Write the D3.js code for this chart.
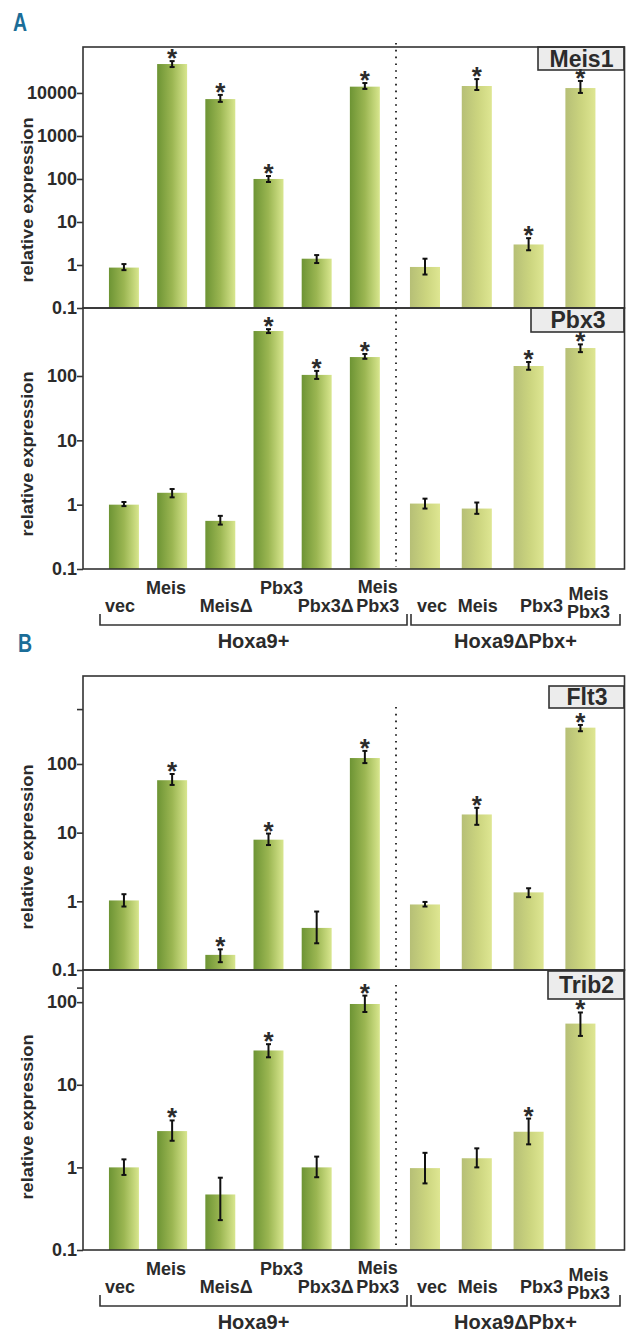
<!DOCTYPE html>
<html>
<head>
<meta charset="UTF-8">
<style>
  body { margin: 0; background: #fff; }
  svg { display: block; }
  text { font-family: "Liberation Sans", Arial, sans-serif; font-weight: bold; fill: #2b2b2b; }
</style>
</head>
<body>
<svg></svg>
<script src="https://d3js.org/d3.v7.min.js"></script>
<script>
// categories
const hoxaCats = ["vec", "Meis", "MeisΔ", "Pbx3", "Pbx3Δ", "Meis Pbx3"];
const dpbxCats = ["vec", "Meis", "Pbx3", "Meis Pbx3"];
const groupNames = ["Hoxa9+", "Hoxa9ΔPbx+"];

// values, first 6 = Hoxa9+, last 4 = Hoxa9ΔPbx+
const meis1Val = [0.87, 47000, 7200, 100, 1.4, 14000, 0.9, 14500, 3, 13000];
const meis1Lo  = [0.76, 40000, 6200, 85, 1.11, 12400, 0.6, 11700, 2.2, 10000];
const meis1Hi  = [1.05, 55000, 9000, 117, 1.7, 17000, 1.4, 21000, 4.2, 19000];
const meis1Sig = [0, 1, 1, 1, 0, 1, 0, 1, 1, 1];

const pbx3Val = [1.0, 1.53, 0.56, 500, 104, 197, 1.04, 0.87, 143, 272];
const pbx3Lo  = [0.95, 1.3, 0.49, 465, 90, 185, 0.87, 0.72, 125, 235];
const pbx3Hi  = [1.1, 1.75, 0.67, 535, 120, 220, 1.24, 1.08, 165, 310];
const pbx3Sig = [0, 0, 0, 1, 1, 1, 0, 0, 1, 1];

const flt3Val = [1.03, 58, 0.166, 7.9, 0.41, 122, 0.9, 18.4, 1.35, 338];
const flt3Lo  = [0.84, 49.5, 0.13, 6.6, 0.245, 103, 0.84, 13, 1.15, 300];
const flt3Hi  = [1.27, 71.5, 0.2, 9.7, 0.71, 155, 0.98, 23, 1.55, 370];
const flt3Sig = [0, 1, 1, 1, 0, 1, 0, 1, 0, 1];

const trib2Val = [1.0, 2.75, 0.47, 26, 1.0, 95, 0.98, 1.29, 2.7, 55];
const trib2Lo  = [0.81, 2.1, 0.23, 21.5, 0.76, 76, 0.64, 1.0, 1.9, 39];
const trib2Hi  = [1.25, 3.7, 0.75, 31, 1.35, 120, 1.5, 1.7, 3.9, 75];
const trib2Sig = [0, 1, 0, 1, 0, 1, 0, 0, 1, 1];

// axis ticks
const meis1Ticks = [0.1, 1, 10, 100, 1000, 10000];
const pbx3Ticks = [0.1, 1, 10, 100];
const flt3Ticks = [0.1, 1, 10, 100];
const trib2Ticks = [0.1, 1, 10, 100];
const flt3Minor = [630];
const trib2Minor = [150];

const width = 626, height = 1334;
const svg = d3.select("svg").attr("width", width).attr("height", height);

const left = 83, right = 625, sepX = 396;

// two band scales, one per construct group
const xHoxa = d3.scaleBand().domain(d3.range(hoxaCats.length))
    .range([99.8, 389]).paddingInner(0.378).paddingOuter(0.19);
const xDpbx = d3.scaleBand().domain(d3.range(dpbxCats.length))
    .range([399.6, 605.8]).paddingInner(0.42).paddingOuter(0.2);
const xPos = i => i < 6 ? xHoxa(i) : xDpbx(i - 6);
const bw = i => i < 6 ? xHoxa.bandwidth() : xDpbx.bandwidth();

// gradients
const defs = svg.append("defs");
function grad(id, stops) {
    const g = defs.append("linearGradient").attr("id", id)
        .attr("x1", "0%").attr("x2", "100%").attr("y1", "0%").attr("y2", "0%");
    stops.forEach(s => g.append("stop").attr("offset", s[0]).attr("stop-color", s[1]));
}
grad("gHoxa", [["0%", "#6d9434"], ["50%", "#9bb652"], ["100%", "#d8e68e"]]);
grad("gDpbx", [["0%", "#b6bf76"], ["55%", "#ccd57f"], ["100%", "#dee692"]]);

const panels = [
    { name: "Meis1", val: meis1Val, lo: meis1Lo, hi: meis1Hi, sig: meis1Sig, ticks: meis1Ticks, minor: [],
      top: 47, bottom: 308, max: 117000, labelY: 200, box: [538, 47, 87, 23], dotTop: 43 },
    { name: "Pbx3", val: pbx3Val, lo: pbx3Lo, hi: pbx3Hi, sig: pbx3Sig, ticks: pbx3Ticks, minor: [],
      top: 308, bottom: 569, max: 1140, labelY: 454, box: [531, 308, 94, 24], dotTop: 308 },
    { name: "Flt3", val: flt3Val, lo: flt3Lo, hi: flt3Hi, sig: flt3Sig, ticks: flt3Ticks, minor: flt3Minor,
      top: 676, bottom: 970, max: 1910, labelY: 847, box: [549, 686, 76, 22], dotTop: 707 },
    { name: "Trib2", val: trib2Val, lo: trib2Lo, hi: trib2Hi, sig: trib2Sig, ticks: trib2Ticks, minor: trib2Minor,
      top: 970, bottom: 1250, max: 245, labelY: 1117, box: [548, 971, 77, 28], dotTop: 985 }
];

panels.forEach(p => {
    const y = d3.scaleLog().domain([0.1, p.max]).range([p.bottom, p.top]);
    const g = svg.append("g");

    // gene label box (stars may sit over its lower edge)
    g.append("rect").attr("x", p.box[0]).attr("y", p.box[1])
        .attr("width", p.box[2] - 1).attr("height", p.box[3])
        .attr("fill", "#ececec").attr("stroke", "#333").attr("stroke-width", 1.6);
    g.append("text").attr("x", p.box[0] + p.box[2] / 2).attr("y", p.box[1] + p.box[3] / 2 + 8)
        .attr("text-anchor", "middle").style("font-size", "23px").attr("fill", "#2b2b2b")
        .text(p.name);

    // bars
    g.selectAll("rect.bar").data(p.val).enter().append("rect")
        .attr("class", "bar")
        .attr("x", (d, i) => xPos(i))
        .attr("width", (d, i) => bw(i))
        .attr("y", d => y(d))
        .attr("height", d => y(0.1) - y(d))
        .attr("fill", (d, i) => i < 6 ? "url(#gHoxa)" : "url(#gDpbx)");

    // error bars
    const eb = g.selectAll("g.err").data(p.val).enter().append("g").attr("class", "err");
    eb.append("line")
        .attr("x1", (d, i) => xPos(i) + bw(i) / 2).attr("x2", (d, i) => xPos(i) + bw(i) / 2)
        .attr("y1", (d, i) => y(p.lo[i])).attr("y2", (d, i) => y(p.hi[i]))
        .attr("stroke", "#111").attr("stroke-width", 2);
    [p.lo, p.hi].forEach(arr => {
        eb.append("line")
            .attr("x1", (d, i) => xPos(i) + bw(i) / 2 - 2.5).attr("x2", (d, i) => xPos(i) + bw(i) / 2 + 2.5)
            .attr("y1", (d, i) => y(arr[i])).attr("y2", (d, i) => y(arr[i]))
            .attr("stroke", "#111").attr("stroke-width", 2);
    });

    // significance stars
    const starIdx = d3.range(p.val.length).filter(i => p.sig[i]);
    g.selectAll("text.star").data(starIdx).enter()
        .append("text").attr("class", "star")
        .attr("x", i => xPos(i) + bw(i) / 2)
        .attr("y", i => y(p.hi[i]) + 6)
        .attr("text-anchor", "middle")
        .style("font-size", "26px")
        .text("*");

    // frame
    g.append("rect").attr("x", left).attr("y", p.top)
        .attr("width", right - left - 0.5).attr("height", p.bottom - p.top)
        .attr("fill", "none").attr("stroke", "#333").attr("stroke-width", 1.6);

    // dotted separator
    g.append("line").attr("x1", sepX).attr("x2", sepX)
        .attr("y1", p.dotTop).attr("y2", p.bottom - 2)
        .attr("stroke", "#333").attr("stroke-width", 2)
        .attr("stroke-dasharray", "1.6,5.2");

    // y axis
    const ax = g.append("g").attr("transform", `translate(${left},0)`)
        .call(d3.axisLeft(y).tickValues(p.ticks.concat(p.minor)).tickSize(6).tickPadding(0)
            .tickFormat(d => p.minor.includes(d) ? "" : (d < 1 ? "0.1" : d3.format("d")(d))));
    ax.select(".domain").remove();
    ax.selectAll(".tick line").attr("stroke", "#333").attr("stroke-width", 1.6);
    ax.selectAll(".tick text").style("font-size", "18px").attr("fill", "#2b2b2b")
        .style("font-family", "'Liberation Sans', Arial, sans-serif").style("font-weight", "bold");

    // y label
    g.append("text")
        .attr("transform", `translate(33,${p.labelY}) rotate(-90)`)
        .attr("text-anchor", "middle")
        .attr("textLength", 165).attr("lengthAdjust", "spacingAndGlyphs")
        .style("font-size", "16px").attr("fill", "#333")
        .text("relative expression");
});

// category labels under the lower panel of each figure
const hoxaRow = [1, 0, 1, 0, 1, 2];
const hoxaDx = [-4, -6, 6, 13, 9, 13];
const dpbxRow = [1, 1, 1, 2];
const dpbxDx = [7, 1, 13, 8];

[569, 1250].forEach(base => {
    const g = svg.append("g");
    hoxaCats.forEach((c, i) => {
        const cx = xHoxa(i) + xHoxa.bandwidth() / 2 + hoxaDx[i];
        const lines = c.split(" ");
        const ys = hoxaRow[i] === 0 ? [base + 25] : hoxaRow[i] === 1 ? [base + 43] : [base + 24, base + 43];
        lines.forEach((t, k) => g.append("text").attr("x", cx).attr("y", ys[k])
            .attr("text-anchor", "middle").style("font-size", "18px").text(t));
    });
    dpbxCats.forEach((c, i) => {
        const cx = xDpbx(i) + xDpbx.bandwidth() / 2 + dpbxDx[i];
        const lines = c.split(" ");
        const ys = dpbxRow[i] === 2 ? [base + 31, base + 49] : [base + 43];
        lines.forEach((t, k) => g.append("text").attr("x", cx).attr("y", ys[k])
            .attr("text-anchor", "middle").style("font-size", "18px").text(t));
    });

    // brackets
    const br = [[100, 407], [411, 620]];
    br.forEach((b, k) => {
        g.append("path")
            .attr("d", `M${b[0]},${base + 45}V${base + 56}H${b[1]}V${base + 45}`)
            .attr("fill", "none").attr("stroke", "#333").attr("stroke-width", 1.6);
        g.append("text").attr("x", (b[0] + b[1]) / 2).attr("y", base + 79)
            .attr("text-anchor", "middle").style("font-size", "20px").text(groupNames[k]);
    });
});

// figure letters
[["A", 13, 31], ["B", 18, 652]].forEach(l => {
    svg.append("text")
        .attr("transform", `translate(${l[1]},${l[2]}) scale(0.78,1)`)
        .style("font-size", "25px")
        .style("fill", "#1b6d98")
        .text(l[0]);
});
</script>
</body>
</html>
